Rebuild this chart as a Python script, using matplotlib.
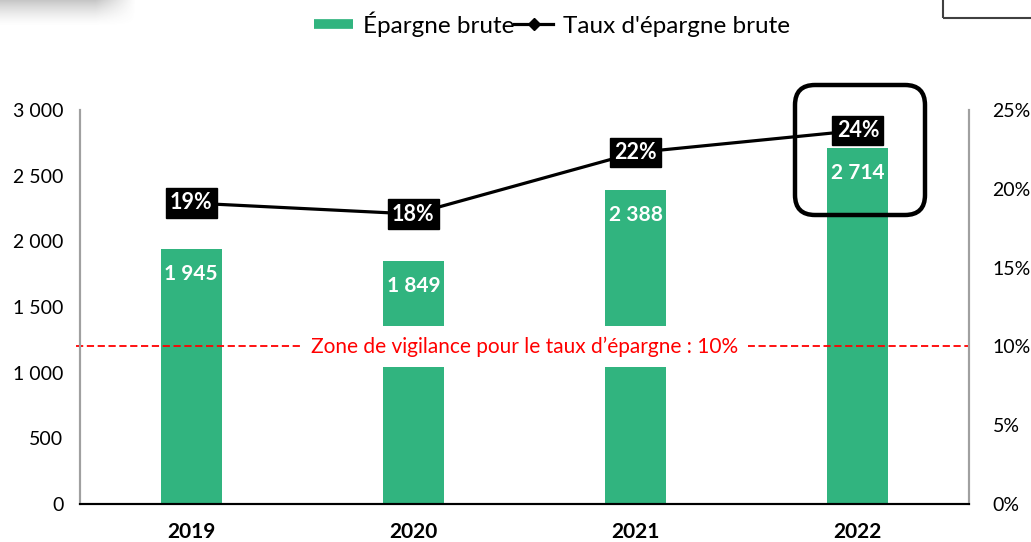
import matplotlib
matplotlib.use("Agg")
import matplotlib.pyplot as plt
import numpy as np
from matplotlib.patches import Rectangle, FancyBboxPatch
from matplotlib.lines import Line2D
from matplotlib.transforms import IdentityTransform

plt.rcParams['font.family'] = ['Lato', 'DejaVu Sans']

years = ["2019", "2020", "2021", "2022"]
epargne = [1945, 1849, 2388, 2714]
taux = [0.191, 0.184, 0.223, 0.237]
taux_labels = ["19%", "18%", "22%", "24%"]
seuil = 0.10
left_ticks = [0, 500, 1000, 1500, 2000, 2500, 3000]
right_ticks = [0, 0.05, 0.10, 0.15, 0.20, 0.25]

green = "#31B47F"

fig = plt.figure(figsize=(10.31, 5.42), dpi=100)
ax = fig.add_axes([80 / 1031, 38 / 542, 889 / 1031, 394 / 542])
ax2 = ax.twinx()

x = np.arange(len(years))
bars = ax.bar(x, epargne, width=0.275, color=green, zorder=2)
ax.set_xlim(-0.5, len(years) - 0.5)
ax.set_ylim(0, 3000)
ax.set_yticks(left_ticks)
ax.set_yticklabels([f"{v:,}".replace(",", " ") for v in left_ticks], fontsize=14)
ax.set_xticks(x)
ax.set_xticklabels(years, fontsize=15, fontweight="bold")
ax.tick_params(length=0, pad=12)
ax.tick_params(axis="x", pad=13)

for b, v in zip(bars, epargne):
    ax.annotate(f"{v:,}".replace(",", " "), (b.get_x() + b.get_width() / 2, v),
                xytext=(0, -25), textcoords="offset pixels", ha="center", va="center",
                color="white", fontsize=15, fontweight="bold", zorder=3)

# ligne taux
ax2.plot(x, taux, color="black", lw=2.3, marker="D", ms=6, zorder=3)
ax2.set_ylim(0, 0.25)
ax2.set_yticks(right_ticks)
ax2.set_yticklabels([f"{int(round(t * 100))}%" for t in right_ticks], fontsize=14)
ax2.tick_params(length=0, pad=17)

for xi, t, lab in zip(x, taux, taux_labels):
    ax2.text(xi, t, lab, ha="center", va="center", color="white", fontsize=15.5,
             fontweight="bold", zorder=5,
             bbox=dict(boxstyle="square,pad=0.2", fc="black", ec="black"))

# zone de vigilance
ax2.axhline(seuil, xmin=-0.005, color="red", lw=1.3, ls=(0, (4, 2)), zorder=1, clip_on=False)
ax2.text(1.5, seuil, "Zone de vigilance pour le taux d\u2019épargne : 10%", ha="center",
         va="center", color="red", fontsize=15, zorder=4,
         bbox=dict(boxstyle="square,pad=0.5", fc="white", ec="none"))

for a in (ax, ax2):
    a.spines["top"].set_visible(False)
    a.spines["left"].set_color("#A0A0A0")
    a.spines["right"].set_color("#A0A0A0")
    a.spines["bottom"].set_color("black")
    a.spines["left"].set_linewidth(1.5)
    a.spines["right"].set_linewidth(1.5)
    a.spines["bottom"].set_linewidth(1.5)

# légende
handles = [Line2D([0], [0], color=green, lw=7, solid_capstyle="butt"),
           Line2D([0], [0], color="black", lw=2.3, marker="D", ms=6)]
fig.legend(handles, ["Épargne brute", "Taux d'épargne brute"], loc="center",
           bbox_to_anchor=(552 / 1031, 1 - 24 / 542), ncol=2, frameon=False,
           fontsize=17.5, handlelength=1.6, handletextpad=0.4, columnspacing=0.0)

# encadré 2022
fig.patches.append(FancyBboxPatch((795, 542 - 215), 130, 130,
                                  boxstyle="round,pad=0,rounding_size=20",
                                  transform=IdentityTransform(), fc="none",
                                  ec="black", lw=3.2, zorder=10))

# cadre en haut à droite
fig.patches.append(Rectangle((943 / 1031, 1 - 18 / 542), 0.2, 0.1,
                             transform=fig.transFigure, fc="none", ec="#404040", lw=1.5))

# ombre en haut à gauche
sh = fig.add_axes([0, 1 - 28 / 542, 140 / 1031, 28 / 542])
yy, xx = np.mgrid[0:28, 0:140]
alpha = np.clip(1 - yy / 26, 0, 1) ** 1.5 * np.clip((135 - xx) / 40, 0, 1) * 0.4
img = np.zeros((28, 140, 4))
img[..., :3] = 0.45
img[..., 3] = alpha
sh.imshow(img, aspect="auto")
sh.axis("off")

fig.savefig("out.png", dpi=100)
